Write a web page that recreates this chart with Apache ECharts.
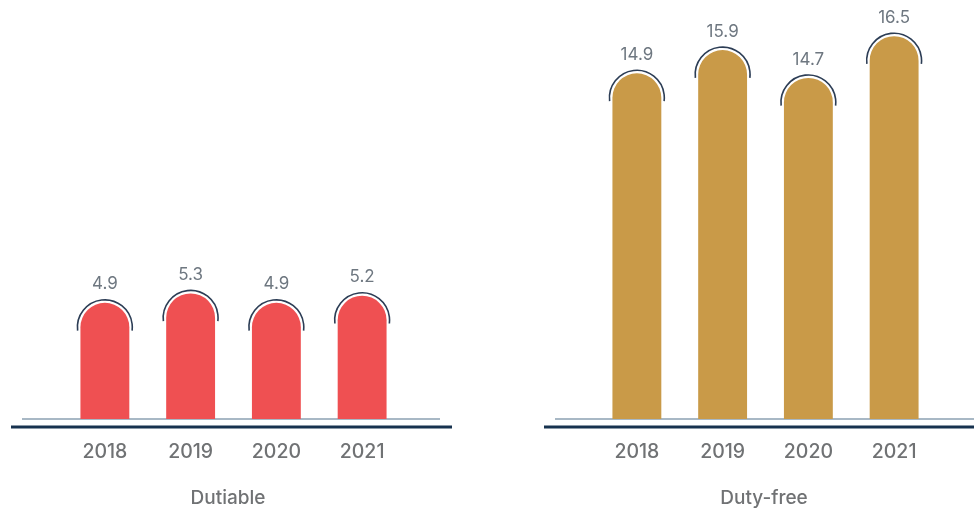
<!DOCTYPE html>
<html>
<head>
<meta charset="utf-8">
<script src="https://cdn.jsdelivr.net/npm/echarts@6/dist/echarts.min.js"></script>
<style>
  html, body { margin: 0; padding: 0; background: #fff; }
  #chart { width: 974px; height: 508px; }
</style>
</head>
<body>
<div id="chart"></div>
<script>
// data
const years = ['2018', '2019', '2020', '2021']
const dutiable = [4.9, 5.3, 4.9, 5.2]
const dutyFree = [14.9, 15.9, 14.7, 16.5]

const FONT = 'Inter, "Open Sans", sans-serif'

// bar with a round top, a thin arc hugging it, and the value above
function capBar (color) {
  return function (params, api) {
    const i = api.value(0)
    const v = api.value(1)
    const base = api.coord([i, 0])
    const top = api.coord([i, v])
    const w = api.size([1, 0])[0] * 0.57
    const r = w / 2
    return {
      type: 'group',
      children: [
        {
          type: 'rect',
          shape: { x: base[0] - r, y: top[1], width: w, height: base[1] - top[1], r: [r, r, 0, 0] },
          style: { fill: color }
        },
        {
          type: 'arc',
          shape: { cx: base[0], cy: top[1] + r, r: r + 3, startAngle: Math.PI - 0.12, endAngle: 2 * Math.PI + 0.12, clockwise: true },
          style: { fill: null, stroke: '#2c3d55', lineWidth: 1.6 }
        },
        {
          type: 'text',
          style: {
            text: v.toFixed(1),
            x: base[0],
            y: top[1] - 10,
            align: 'center',
            verticalAlign: 'bottom',
            fill: '#6e7780',
            fontSize: 17,
            fontFamily: FONT
          }
        }
      ]
    }
  }
}

function xAxis (gridIndex) {
  return {
    type: 'category',
    gridIndex: gridIndex,
    data: years,
    axisLine: { show: false },
    axisTick: { show: false },
    axisLabel: { color: '#707274', fontSize: 19.5, fontFamily: FONT, fontWeight: 500, margin: 23 }
  }
}

function yAxis (gridIndex, max) {
  return { type: 'value', gridIndex: gridIndex, min: 0, max: max, show: false, splitLine: { show: false } }
}

function hline (x1, x2, y, color, width) {
  return { type: 'line', shape: { x1: x1, y1: y, x2: x2, y2: y }, style: { stroke: color, lineWidth: width }, z: 0 }
}

const chart = echarts.init(document.getElementById('chart'))
chart.setOption({
  backgroundColor: '#fff',
  animation: false,
  title: [
    { text: 'Dutiable', left: 223, top: 484, textAlign: 'center', textStyle: { color: '#707274', fontSize: 19, fontWeight: 500, fontFamily: FONT } },
    { text: 'Duty-free', left: 759, top: 484, textAlign: 'center', textStyle: { color: '#707274', fontSize: 19, fontWeight: 500, fontFamily: FONT } }
  ],
  grid: [
    { left: 62, width: 343, top: 182, bottom: 89 },
    { left: 594, width: 343, top: 13, bottom: 89 }
  ],
  xAxis: [xAxis(0), xAxis(1)],
  yAxis: [yAxis(0, 10), yAxis(1, 17.5)],
  graphic: [
    hline(22, 440, 419, '#8ba0b2', 1.5),
    hline(11, 452, 427, '#17324f', 3),
    hline(555, 974, 419, '#8ba0b2', 1.5),
    hline(544, 974, 427, '#17324f', 3)
  ],
  series: [
    {
      type: 'custom',
      xAxisIndex: 0,
      yAxisIndex: 0,
      renderItem: capBar('#ef5052'),
      data: dutiable.map((v, i) => [i, v]),
      z: 2
    },
    {
      type: 'custom',
      xAxisIndex: 1,
      yAxisIndex: 1,
      renderItem: capBar('#c99a48'),
      data: dutyFree.map((v, i) => [i, v]),
      z: 2
    }
  ]
})
</script>
</body>
</html>
